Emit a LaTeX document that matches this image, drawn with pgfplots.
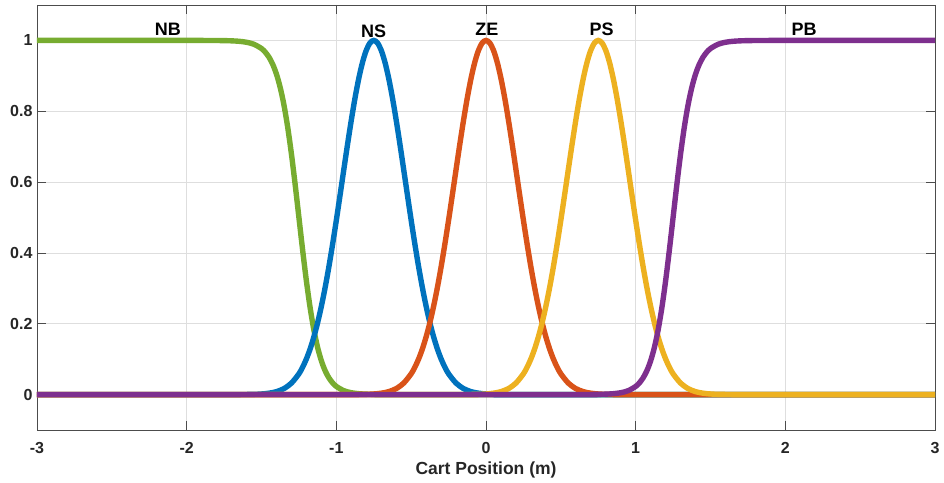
\documentclass[border=0pt]{standalone}
\usepackage{fontspec}
\setmainfont{Liberation Sans}
\usepackage{pgfplots}
\pgfplotsset{compat=1.18}

% MATLAB default line colours
\definecolor{mgreen}{rgb}{0.466,0.674,0.188}
\definecolor{mblue}{rgb}{0,0.447,0.741}
\definecolor{morange}{rgb}{0.85,0.325,0.098}
\definecolor{myellow}{rgb}{0.929,0.694,0.125}
\definecolor{mpurple}{rgb}{0.494,0.184,0.556}
\definecolor{axgray}{rgb}{0.15,0.15,0.15}

\begin{document}
\begin{tikzpicture}
\begin{axis}[scale only axis,width=898pt,height=425pt,
xmin=-3,xmax=3,ymin=-0.1,ymax=1.1,
xtick={-3,-2,-1,0,1,2,3},xticklabels={-3,-2,-1,0,1,2,3},
ytick={0,0.2,0.4,0.6,0.8,1},yticklabels={0,0.2,0.4,0.6,0.8,1},
tick align=inside,major tick length=9pt,
grid=major,major grid style={color=black!13,line width=0.7pt},
axis line style={color=black!70,line width=0.8pt},
tick style={color=black!70,line width=0.8pt},
ticklabel style={font=\fontsize{16}{18}\selectfont\bfseries,text=axgray},
xticklabel style={yshift=-9pt},
yticklabel style={xshift=-1pt},
xlabel={Cart Position (m)},
xlabel style={font=\fontsize{17.5}{20}\selectfont\bfseries,text=axgray,yshift=-1pt},
every axis plot/.append style={line width=5.4pt,smooth,no markers},
clip=true]

% NB
\addplot[mgreen] coordinates {(-3,1) (-2,1) (-1.9,0.9999) (-1.8,0.9997) (-1.75,0.9994) (-1.7,0.9988) (-1.65,0.9975) (-1.6,0.9948) (-1.55,0.9890) (-1.5,0.9770) (-1.475,0.9669) (-1.45,0.9526) (-1.425,0.9325) (-1.4,0.9047) (-1.375,0.8670) (-1.35,0.8176) (-1.325,0.7549) (-1.3,0.6792) (-1.275,0.5926) (-1.25,0.5) (-1.225,0.4074) (-1.2,0.3208) (-1.175,0.2451) (-1.15,0.1824) (-1.125,0.1330) (-1.1,0.0953) (-1.075,0.0675) (-1.05,0.0474) (-1.025,0.0331) (-1,0.0230) (-0.95,0.0110) (-0.9,0.0052) (-0.85,0.0025) (-0.8,0.0012) (-0.75,0.0006) (-0.7,0.0003) (-0.6,0.0001) (-0.5,0) (3,0)};

% NS
\addplot[mblue] coordinates {(-3,0) (-1.75,0) (-1.65,0.0001) (-1.55,0.0007) (-1.5,0.0017) (-1.45,0.0039) (-1.4,0.0083) (-1.35,0.0169) (-1.3,0.0324) (-1.25,0.0587) (-1.225,0.0775) (-1.2,0.1007) (-1.175,0.1290) (-1.15,0.1630) (-1.125,0.2030) (-1.1,0.2494) (-1.075,0.3019) (-1.05,0.3604) (-1.025,0.4243) (-1,0.4923) (-0.975,0.5633) (-0.95,0.6354) (-0.925,0.7067) (-0.9,0.7748) (-0.875,0.8377) (-0.85,0.8928) (-0.825,0.9382) (-0.8,0.9721) (-0.775,0.9929) (-0.75,1) (-0.725,0.9929) (-0.7,0.9721) (-0.675,0.9382) (-0.65,0.8928) (-0.625,0.8377) (-0.6,0.7748) (-0.575,0.7067) (-0.55,0.6354) (-0.525,0.5633) (-0.5,0.4923) (-0.475,0.4243) (-0.45,0.3604) (-0.425,0.3019) (-0.4,0.2494) (-0.375,0.2030) (-0.35,0.1630) (-0.325,0.1290) (-0.3,0.1007) (-0.275,0.0775) (-0.25,0.0587) (-0.2,0.0324) (-0.15,0.0169) (-0.1,0.0083) (-0.05,0.0039) (0,0.0017) (0.05,0.0007) (0.15,0.0001) (0.25,0) (3,0)};

% ZE
\addplot[morange] coordinates {(-3,0) (-1,0) (-0.9,0.0001) (-0.8,0.0007) (-0.75,0.0017) (-0.7,0.0039) (-0.65,0.0083) (-0.6,0.0169) (-0.55,0.0324) (-0.5,0.0587) (-0.475,0.0775) (-0.45,0.1007) (-0.425,0.1290) (-0.4,0.1630) (-0.375,0.2030) (-0.35,0.2494) (-0.325,0.3019) (-0.3,0.3604) (-0.275,0.4243) (-0.25,0.4923) (-0.225,0.5633) (-0.2,0.6354) (-0.175,0.7067) (-0.15,0.7748) (-0.125,0.8377) (-0.1,0.8928) (-0.075,0.9382) (-0.05,0.9721) (-0.025,0.9929) (0,1) (0.025,0.9929) (0.05,0.9721) (0.075,0.9382) (0.1,0.8928) (0.125,0.8377) (0.15,0.7748) (0.175,0.7067) (0.2,0.6354) (0.225,0.5633) (0.25,0.4923) (0.275,0.4243) (0.3,0.3604) (0.325,0.3019) (0.35,0.2494) (0.375,0.2030) (0.4,0.1630) (0.425,0.1290) (0.45,0.1007) (0.475,0.0775) (0.5,0.0587) (0.55,0.0324) (0.6,0.0169) (0.65,0.0083) (0.7,0.0039) (0.75,0.0017) (0.8,0.0007) (0.9,0.0001) (1,0) (3,0)};

% PS
\addplot[myellow] coordinates {(-3,0) (-0.25,0) (-0.15,0.0001) (-0.05,0.0007) (0,0.0017) (0.05,0.0039) (0.1,0.0083) (0.15,0.0169) (0.2,0.0324) (0.25,0.0587) (0.275,0.0775) (0.3,0.1007) (0.325,0.1290) (0.35,0.1630) (0.375,0.2030) (0.4,0.2494) (0.425,0.3019) (0.45,0.3604) (0.475,0.4243) (0.5,0.4923) (0.525,0.5633) (0.55,0.6354) (0.575,0.7067) (0.6,0.7748) (0.625,0.8377) (0.65,0.8928) (0.675,0.9382) (0.7,0.9721) (0.725,0.9929) (0.75,1) (0.775,0.9929) (0.8,0.9721) (0.825,0.9382) (0.85,0.8928) (0.875,0.8377) (0.9,0.7748) (0.925,0.7067) (0.95,0.6354) (0.975,0.5633) (1,0.4923) (1.025,0.4243) (1.05,0.3604) (1.075,0.3019) (1.1,0.2494) (1.125,0.2030) (1.15,0.1630) (1.175,0.1290) (1.2,0.1007) (1.225,0.0775) (1.25,0.0587) (1.3,0.0324) (1.35,0.0169) (1.4,0.0083) (1.45,0.0039) (1.5,0.0017) (1.55,0.0007) (1.65,0.0001) (1.75,0) (3,0)};

% PB
\addplot[mpurple] coordinates {(-3,0) (0.5,0) (0.6,0.0001) (0.7,0.0003) (0.75,0.0006) (0.8,0.0012) (0.85,0.0025) (0.9,0.0052) (0.95,0.0110) (1,0.0230) (1.025,0.0331) (1.05,0.0474) (1.075,0.0675) (1.1,0.0953) (1.125,0.1330) (1.15,0.1824) (1.175,0.2451) (1.2,0.3208) (1.225,0.4074) (1.25,0.5) (1.275,0.5926) (1.3,0.6792) (1.325,0.7549) (1.35,0.8176) (1.375,0.8670) (1.4,0.9047) (1.425,0.9325) (1.45,0.9526) (1.475,0.9669) (1.5,0.9770) (1.55,0.9890) (1.6,0.9948) (1.65,0.9975) (1.7,0.9988) (1.75,0.9994) (1.8,0.9997) (1.9,0.9999) (2,1) (3,1)};

\begin{scope}[font=\fontsize{18}{20}\selectfont\bfseries]
\node at (axis cs:-2.125,1.03) {NB};
\node at (axis cs:-0.75,1.025) {NS};
\node at (axis cs:0.005,1.03) {ZE};
\node at (axis cs:0.773,1.03) {PS};
\node at (axis cs:2.125,1.03) {PB};
\end{scope}
\end{axis}
\pgfresetboundingbox
\path[use as bounding box] ([shift={(-37pt,-53pt)}]current axis.south west) rectangle ([shift={(9pt,5pt)}]current axis.north east);
\end{tikzpicture}
\end{document}
